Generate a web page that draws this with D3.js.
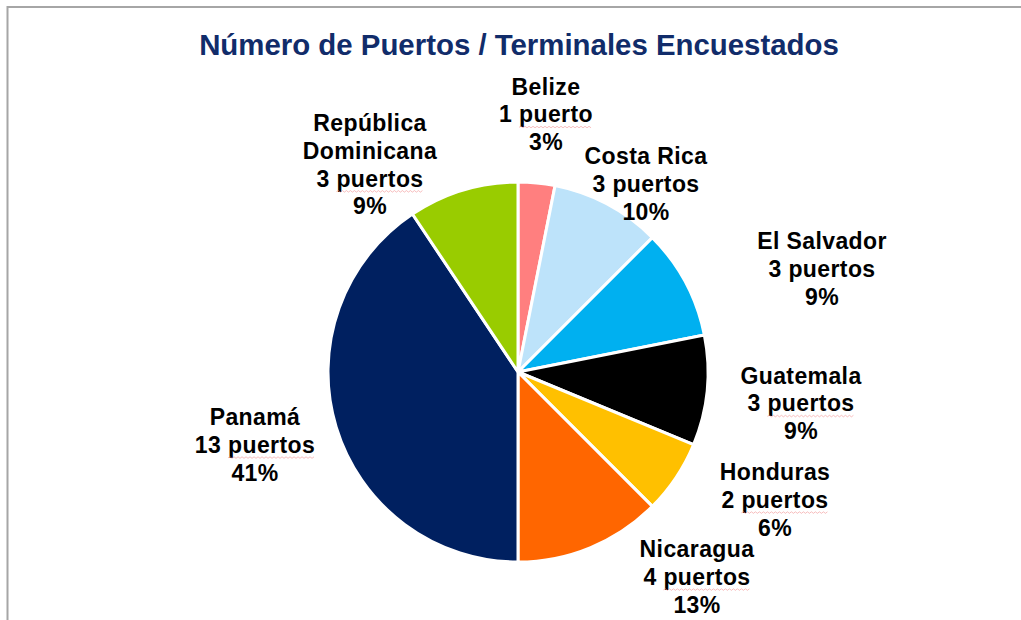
<!DOCTYPE html>
<html>
<head>
<meta charset="utf-8">
<script src="https://cdn.jsdelivr.net/npm/d3@7/dist/d3.min.js"></script>
<style>
  body { margin: 0; background: #fff; }
  svg { display: block; }
</style>
</head>
<body>
<div id="chart"></div>
<script>
const w = 1021;
const h = 620;

// data
const countries = ["Belize", "Costa Rica", "El Salvador", "Guatemala", "Honduras", "Nicaragua", "Panamá", "República Dominicana"];
const ports = [1, 3, 3, 3, 2, 4, 13, 3];
const pctLabels = ["3%", "10%", "9%", "9%", "6%", "13%", "41%", "9%"];
const nameLines = [["Belize"], ["Costa Rica"], ["El Salvador"], ["Guatemala"], ["Honduras"], ["Nicaragua"], ["Panamá"], ["República", "Dominicana"]];
const spellMarked = [true, false, false, true, true, true, true, true];

// layout / style
const colors = ["#FF7F7F", "#BDE3FA", "#00B0F0", "#000000", "#FFC000", "#FF6600", "#002060", "#99CC00"];
const cx = 518, cy = 372, radius = 190;
const lineStep = 27.8;
// first-line baseline of each label, relative to pie centre
const labelPos = [[28, -277.5], [128, -208], [304, -123], [283, 11.5], [257, 108], [179, 185], [-263, 53], [-148, -241]];

const svg = d3.select("#chart").append("svg").attr("width", w).attr("height", h);

// frame
svg.append("path")
  .attr("d", "M7.5," + (h + 5) + "V7H" + (w + 5))
  .attr("fill", "none")
  .attr("stroke", "#a6a6a6")
  .attr("stroke-width", 2);

svg.append("text")
  .attr("x", 519)
  .attr("y", 55)
  .attr("text-anchor", "middle")
  .style("font-family", "'Liberation Sans', Arial, sans-serif")
  .style("font-weight", "bold")
  .style("font-size", "29.4px")
  .attr("fill", "#112C6A")
  .text("Número de Puertos / Terminales Encuestados");

const pie = d3.pie().sort(null).value(d => d)(ports);
const arc = d3.arc().innerRadius(0).outerRadius(radius);

const g = svg.append("g").attr("transform", "translate(" + cx + "," + cy + ")");

g.selectAll("path.slice").data(pie).enter().append("path")
  .attr("class", "slice")
  .attr("d", arc)
  .attr("fill", (d, i) => colors[i])
  .attr("stroke", "#fff")
  .attr("stroke-width", 3)
  .attr("stroke-linejoin", "round");

countries.forEach(function (c, i) {
  const n = ports[i];
  const lines = nameLines[i].concat([n + (n === 1 ? " puerto" : " puertos"), pctLabels[i]]);
  const lg = g.append("g").attr("transform", "translate(" + labelPos[i][0] + "," + labelPos[i][1] + ")");
  lines.forEach(function (txt, j) {
    const t = lg.append("text")
      .attr("x", 0)
      .attr("y", j * lineStep)
      .attr("text-anchor", "middle")
      .style("font-family", "'Liberation Sans', Arial, sans-serif")
      .style("font-weight", "bold")
      .style("font-size", "23px")
      .style("letter-spacing", "0.4px")
      .attr("fill", "#000")
      .text(txt);
    const k = txt.indexOf("puerto");
    if (k >= 0 && spellMarked[i]) {
      const node = t.node();
      const total = node.getComputedTextLength();
      const x0 = -total / 2 + node.getSubStringLength(0, k);
      const x1 = x0 + node.getSubStringLength(k, txt.length - k);
      let d = "M" + x0 + "," + (j * lineStep + 5);
      for (let x = x0 + 2, up = true; x <= x1; x += 2, up = !up) {
        d += "L" + x + "," + (j * lineStep + (up ? 4 : 5.5));
      }
      lg.append("path")
        .attr("d", d)
        .attr("fill", "none")
        .attr("stroke", "#f08c8c")
        .attr("stroke-width", 0.8)
        .attr("opacity", 0.7);
    }
  });
});
</script>
</body>
</html>
